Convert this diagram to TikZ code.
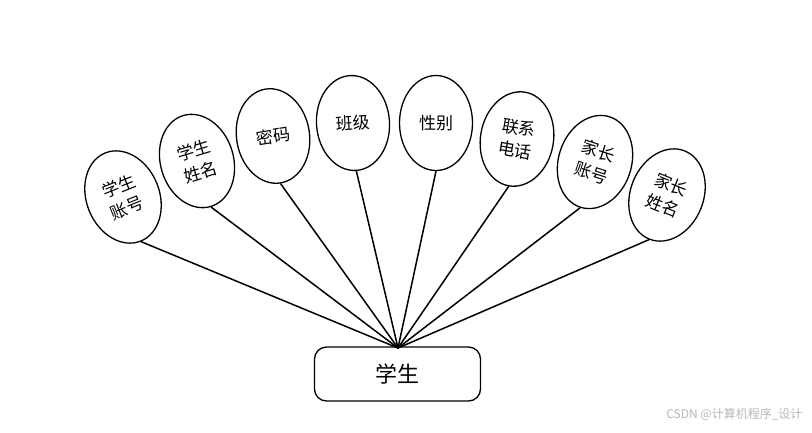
\documentclass[tikz,border=0pt]{standalone}
\usepackage{fontspec}
\setmainfont{Liberation Serif}
\newfontfamily\cjk{Noto Sans CJK SC}
\usetikzlibrary{shapes.geometric}
\tikzset{
  attr/.style={ellipse, draw, line width=1.3pt, minimum width=73pt, minimum height=95pt, inner sep=0pt, align=center, font=\cjk\fontsize{17}{23}\selectfont, fill=white},
  link/.style={line width=1.5pt},
  entity/.style={draw, line width=1.3pt, rounded corners=12pt, minimum width=166pt, minimum height=54pt, font=\cjk\fontsize{22}{24}\selectfont, fill=white}
}
\begin{document}
\begin{tikzpicture}[x=1pt,y=-1pt]
\useasboundingbox[fill=white] (0,0) rectangle (812,432);
\node[entity] (e) at (397.5,374) {学生};
\coordinate (hub) at (398,348);
\node[attr, rotate=22] (a1) at (123,197) {学生\\账号};
\node[attr, rotate=17] (a2) at (197,161) {学生\\姓名};
\node[attr, rotate=9] (a3) at (273,136) {密码};
\node[attr, rotate=4] (a4) at (353,123) {班级};
\node[attr, rotate=0] (a5) at (436,123) {性别};
\node[attr, rotate=-10] (a6) at (517,139) {联系\\电话};
\node[attr, rotate=-18] (a7) at (595,162) {家长\\账号};
\node[attr, rotate=-22] (a8) at (667,195) {家长\\姓名};
\foreach \i in {1,...,8} {\draw[link] (a\i.south) -- (hub);}
\node[font=\cjk\fontsize{12}{14}\selectfont, text=black!28, anchor=east] (wm) at (806,414) {CSDN @计算机程序\_设计};
\end{tikzpicture}
\end{document}
